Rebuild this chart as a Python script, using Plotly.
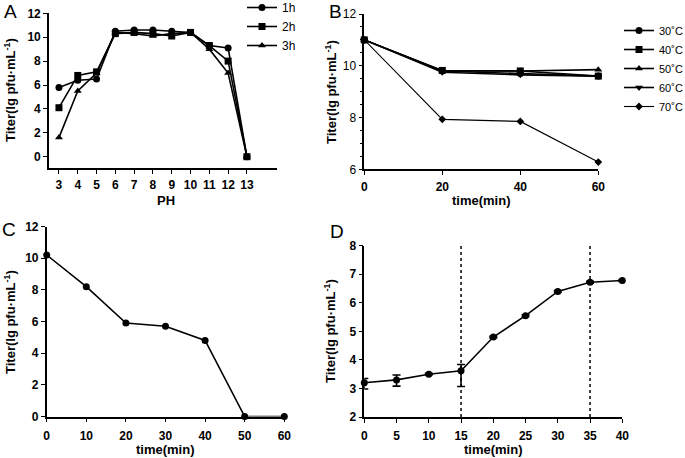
import plotly.graph_objects as go

W, H = 685, 458

# ---------- data ----------
ph = [3, 4, 5, 6, 7, 8, 9, 10, 11, 12, 13]
ph_1h = [5.8, 6.4, 6.5, 10.5, 10.6, 10.6, 10.5, 10.4, 9.3, 9.1, 0]
ph_2h = [4.1, 6.8, 7.1, 10.3, 10.4, 10.3, 10.1, 10.4, 9.3, 8.0, 0]
ph_3h = [1.6, 5.5, 7.0, 10.4, 10.3, 10.1, 10.3, 10.4, 9.0, 7.0, 0]

temp_time = [0, 20, 40, 60]
t30 = [11.0, 9.8, 9.7, 9.6]
t40 = [11.0, 9.82, 9.8, 9.6]
t50 = [11.0, 9.8, 9.8, 9.85]
t60 = [11.0, 9.75, 9.65, 9.6]
t70 = [11.0, 7.93, 7.85, 6.28]

uv_time = [0, 10, 20, 30, 40, 50, 60]
uv_titer = [10.2, 8.2, 5.9, 5.7, 4.8, 0, 0]

growth_time = [0, 5, 10, 15, 20, 25, 30, 35, 40]
growth_titer = [3.2, 3.3, 3.5, 3.62, 4.8, 5.55, 6.4, 6.72, 6.78]
growth_err_up = [0.15, 0.17, 0.03, 0.22, 0.03, 0.03, 0.03, 0.03, 0.03]
growth_err_dn = [0.22, 0.22, 0.03, 0.55, 0.03, 0.03, 0.03, 0.03, 0.03]
growth_vlines = [15, 35]

ph_ticks = list(range(3, 14))

# ---------- helpers ----------
def xd(a, b):
    return [a / W, b / W]

def yd(top, bottom):
    return [1 - bottom / H, 1 - top / H]

FONT = "Arial, Liberation Sans, sans-serif"
tickfont = dict(family=FONT, size=12, color="black", weight="bold")

fig = go.Figure()

line = dict(color="black", width=1.6)

# Panel A
for name, vals, sym in [("1h", ph_1h, "circle"), ("2h", ph_2h, "square"), ("3h", ph_3h, "triangle-up")]:
    fig.add_trace(go.Scatter(x=ph, y=vals, mode="lines+markers", name=name,
                             line=line, marker=dict(symbol=sym, size=7, color="black"),
                             xaxis="x", yaxis="y", legend="legend", cliponaxis=False))

# Panel B
for name, vals, sym, sz in [("30˚C", t30, "circle", 7), ("40˚C", t40, "square", 7),
                            ("50˚C", t50, "triangle-up", 7), ("60˚C", t60, "triangle-down", 7),
                            ("70˚C", t70, "diamond", 6)]:
    fig.add_trace(go.Scatter(x=temp_time, y=vals, mode="lines+markers", name=name,
                             line=dict(color="black", width=1.6 if name != "70˚C" else 1.1),
                             marker=dict(symbol=sym, size=sz, color="black"),
                             xaxis="x2", yaxis="y2", legend="legend2", cliponaxis=False))

# Panel C
fig.add_trace(go.Scatter(x=uv_time, y=uv_titer, mode="lines+markers", showlegend=False,
                         line=line, marker=dict(symbol="circle", size=7, color="black"),
                         xaxis="x3", yaxis="y3", cliponaxis=False))

# Panel D
fig.add_trace(go.Scatter(x=growth_time, y=growth_titer, mode="lines+markers", showlegend=False,
                         line=line, marker=dict(symbol="circle", size=7, color="black"),
                         error_y=dict(type="data", symmetric=False, array=growth_err_up,
                                      arrayminus=growth_err_dn, color="black", thickness=1.6, width=4),
                         xaxis="x4", yaxis="y4", cliponaxis=False))

for xv in growth_vlines:
    fig.add_shape(type="line", xref="x4", yref="y4", x0=xv, x1=xv, y0=2, y1=8,
                  line=dict(color="black", width=1.5, dash="dot"))

ax = dict(showline=True, linecolor="black", linewidth=1.6, ticks="outside", ticklen=4,
          tickwidth=1.4, tickcolor="black", showgrid=False, zeroline=False, tickfont=tickfont,
          mirror=False)

fig.update_layout(
    width=W, height=H, margin=dict(l=0, r=0, t=0, b=0, autoexpand=False),
    paper_bgcolor="white", plot_bgcolor="white",
    font=dict(family=FONT, color="black"),
    xaxis=dict(ax, domain=xd(49, 277), range=[2.47, 14.6], tickvals=ph_ticks, anchor="y"),
    yaxis=dict(ax, domain=yd(13.3, 168.3), range=[-0.97, 12], tickvals=[0, 2, 4, 6, 8, 10, 12], anchor="x"),
    xaxis2=dict(ax, domain=xd(364.3, 598.3), range=[0, 60], tickvals=[0, 20, 40, 60], anchor="y2",
                ticklabelstandoff=1),
    yaxis2=dict(ax, domain=yd(14, 169.3), range=[6, 12], tickvals=[6, 8, 10, 12], anchor="x2",
                tickfont=dict(family=FONT, size=12, color="black"),
                minor=dict(dtick=0.5, ticks="outside", ticklen=2.5, tickcolor="black", tickwidth=1)),
    xaxis3=dict(ax, domain=xd(46.7, 284.3), range=[0, 60], tickvals=[0, 10, 20, 30, 40, 50, 60], anchor="y3",
                ticklabelstandoff=3),
    yaxis3=dict(ax, domain=yd(226.5, 416.5), range=[0, 12], tickvals=[0, 2, 4, 6, 8, 10, 12], anchor="x3"),
    xaxis4=dict(ax, domain=xd(364.3, 622.3), range=[0, 40], tickvals=[0, 5, 10, 15, 20, 25, 30, 35, 40], anchor="y4",
                ticklabelstandoff=3),
    yaxis4=dict(ax, domain=yd(245.7, 417), range=[2, 8], tickvals=[2, 3, 4, 5, 6, 7, 8], anchor="x4"),
    legend=dict(x=242 / W, y=1 + 7 / H, xanchor="left", yanchor="top", bgcolor="rgba(0,0,0,0)",
                font=dict(family=FONT, size=12, color="black"), itemwidth=30, tracegroupgap=0),
    legend2=dict(x=619 / W, y=1 - 16 / H, xanchor="left", yanchor="top", bgcolor="rgba(0,0,0,0)",
                 font=dict(family=FONT, size=11, color="black"), itemwidth=30, tracegroupgap=0),
)

annots = []
ytitle = "Titer(lg pfu·mL<sup>-1</sup>)"
for (x, y) in [(10, 90), (331, 92), (10, 322), (330, 331)]:
    annots.append(dict(text=ytitle, x=x / W, y=1 - y / H, xref="paper", yref="paper",
                       textangle=-90, showarrow=False, xanchor="center", yanchor="middle",
                       font=dict(family=FONT, size=13, color="black", weight="bold")))
for (t, x, y) in [("PH", 166, 200), ("time(min)", 481, 200), ("time(min)", 165, 449), ("time(min)", 493, 449)]:
    annots.append(dict(text=t, x=x / W, y=1 - y / H, xref="paper", yref="paper",
                       showarrow=False, xanchor="center", yanchor="middle",
                       font=dict(family=FONT, size=13, color="black", weight="bold")))
for (t, x, y) in [("A", 10, 11), ("B", 335, 11), ("C", 9, 230), ("D", 337, 231)]:
    annots.append(dict(text=t, x=x / W, y=1 - y / H, xref="paper", yref="paper",
                       showarrow=False, xanchor="center", yanchor="middle",
                       font=dict(family=FONT, size=19, color="black")))
fig.update_layout(annotations=annots)

post = ("var s=document.documentElement.style, b=document.body.style;"
        "s.margin='0px';s.padding='0px';s.overflow='hidden';"
        "b.margin='0px';b.padding='0px';b.overflow='hidden';")
fig.write_html("out.html", config={"displayModeBar": False}, post_script=post)
